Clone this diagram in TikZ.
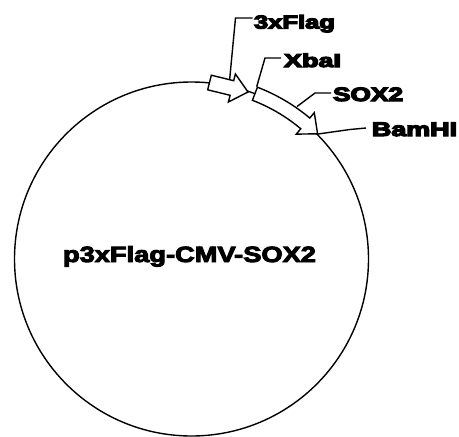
\documentclass[tikz,border=0pt]{standalone}
\usepackage{fontspec}
\setmainfont{Liberation Sans}
\newfontfamily\lblfont{Liberation Sans Bold}[FakeBold=4]
\newfontfamily\smlfont{Liberation Sans Bold}[FakeBold=6]
\usetikzlibrary{calc}
\newcommand{\plbl}[3]{\resizebox{#1pt}{#2pt}{\lblfont #3}}
\newcommand{\slbl}[3]{\resizebox{#1pt}{#2pt}{\smlfont #3}}
\begin{document}
\begin{tikzpicture}[x=1pt,y=1pt,
  feat/.style={draw=black, fill=white, line width=1.4pt, line join=miter},
  leader/.style={draw=black, line width=1.4pt},
  lab/.style={anchor=base west, inner sep=0pt, outer sep=0pt}]
\useasboundingbox (0,0) rectangle (459,-437);
\coordinate (C) at (191.5,-259);
% backbone
\draw[line width=1.4pt] (C) circle[radius=177];
% labels
\node[lab] (flag) at (254,-28.5) {\slbl{81}{13.5}{3xFlag}};
\node[lab] (xba) at (284,-67) {\slbl{57}{13.5}{XbaI}};
\node[lab] (sox) at (333,-101) {\slbl{70}{13.5}{SOX2}};
\node[lab] (bam) at (372,-136) {\slbl{85}{13.5}{BamHI}};
\node[lab] (name) at (63,-262) {\plbl{253}{16}{p3xFlag-CMV-SOX2}};
% leader points
\coordinate (f1) at (252.5,-18);
\coordinate (f2) at (235.5,-18);
\coordinate (f3) at (229.6,-80);
\coordinate (x1) at (281,-58);
\coordinate (x2) at (265,-58);
\coordinate (x3) at (256.7,-86.7);
\coordinate (s1) at (331,-93);
\coordinate (s2) at (315,-93);
\coordinate (s3) at (297,-106.5);
\coordinate (b1) at (366,-128);
\coordinate (b2) at (350,-129.5);
\coordinate (b3) at (318,-134);
\draw[leader] (f1) -- (f2) -- (f3);
\draw[leader] (x1) -- (x2) -- (x3);
\draw[leader] (s1) -- (s2) -- (s3);
\draw[leader] (b1) -- (b2) -- (b3);
% 3xFlag feature arrow
\path[feat] (211.3,-75.2) -- (233.7,-80.7) -- (235.4,-74.0) -- (248.0,-92.0)
  -- (228.4,-102.0) -- (230.1,-95.3) -- (207.7,-89.8) -- cycle;
% SOX2 feature arrow
\path[feat] ($(C)+(69:184)$) arc[start angle=69,end angle=50,radius=184]
  -- ($(C)+(50:191)$) -- ($(C)+(44.8:177.7)$) -- ($(C)+(50:163)$)
  -- ($(C)+(50:170)$) arc[start angle=50,end angle=69,radius=170] -- cycle;
\end{tikzpicture}
\end{document}
